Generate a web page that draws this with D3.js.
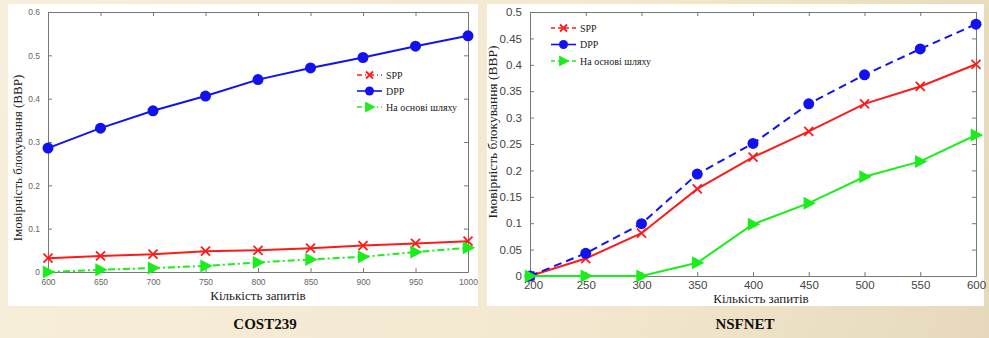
<!DOCTYPE html>
<html>
<head>
<meta charset="utf-8">
<script src="https://cdn.jsdelivr.net/npm/d3@7"></script>
<style>
  body { margin: 0; background: linear-gradient(100deg, #f7eedb 0%, #f3e8cf 60%, #e6d9bb 100%); width: 989px; height: 338px; overflow: hidden; }
  svg { display: block; }
  .tick text { fill: #555; font-family: "Liberation Sans", Arial, sans-serif; }
  .lbl { font-family: "Liberation Serif", "Times New Roman", serif; fill: #222; }
</style>
</head>
<body>
<script>
// COST239
var costX = [600, 650, 700, 750, 800, 850, 900, 950, 1000];
var costSPP = [0.032, 0.037, 0.041, 0.048, 0.050, 0.055, 0.061, 0.066, 0.071];
var costDPP = [0.286, 0.332, 0.372, 0.406, 0.444, 0.471, 0.495, 0.521, 0.545];
var costPath = [0.000, 0.005, 0.009, 0.014, 0.022, 0.029, 0.035, 0.046, 0.056];
var costYTicks = [0, 0.1, 0.2, 0.3, 0.4, 0.5, 0.6];

// NSFNET
var nsfX = [200, 250, 300, 350, 400, 450, 500, 550, 600];
var nsfSPP = [0, 0.033, 0.081, 0.165, 0.225, 0.274, 0.326, 0.359, 0.401];
var nsfDPP = [0, 0.043, 0.099, 0.193, 0.251, 0.326, 0.381, 0.430, 0.477];
var nsfPath = [0, 0, 0, 0.025, 0.098, 0.138, 0.188, 0.217, 0.267];
var nsfYTicks = [0, 0.05, 0.1, 0.15, 0.2, 0.25, 0.3, 0.35, 0.4, 0.45, 0.5];

var seriesNames = ["SPP", "DPP", "На основі шляху"];
var xTitle = "Кількість запитів";
var yTitle = "Імовірність блокування (BBP)";
var captions = ["COST239", "NSFNET"];

var red = "#ff1a1a", blue = "#1212f0", green = "#1aee1a";

var svg = d3.select("body").append("svg")
    .attr("width", 989)
    .attr("height", 338);

// white panels
svg.append("rect").attr("x", 8).attr("y", 4).attr("width", 470).attr("height", 302).attr("fill", "#fff");
svg.append("rect").attr("x", 487).attr("y", 4).attr("width", 497).attr("height", 302).attr("fill", "#fff");

function marker(g, type, cx, cy, color, s) {
  if (type == "x") {
    g.append("path")
      .attr("d", "M" + (cx - s) + "," + (cy - s) + "L" + (cx + s) + "," + (cy + s) + "M" + (cx - s) + "," + (cy + s) + "L" + (cx + s) + "," + (cy - s))
      .attr("stroke", color).attr("stroke-width", 1.8).attr("fill", "none");
  } else if (type == "o") {
    g.append("circle").attr("cx", cx).attr("cy", cy).attr("r", s).attr("fill", color);
  } else {
    g.append("path")
      .attr("d", "M" + (cx - s * 0.8) + "," + (cy - s) + "L" + (cx + s * 1.1) + "," + cy + "L" + (cx - s * 0.8) + "," + (cy + s) + "Z")
      .attr("fill", color);
  }
}

function drawChart(cfg) {
  var g = svg.append("g");
  var x = d3.scaleLinear().domain(d3.extent(cfg.xs)).range([cfg.left, cfg.right]);
  var y = d3.scaleLinear().domain([0, d3.max(cfg.yTicks)]).range([cfg.bottom, cfg.top]);

  var fmt = function(d) { return d == 0 ? "0" : String(+d.toFixed(2)); };

  var xAxis = g.append("g").attr("transform", "translate(0," + cfg.bottom + ")")
    .call(d3.axisBottom(x).tickValues(cfg.xs).tickSizeInner(-4).tickSizeOuter(0).tickPadding(cfg.xPad).tickFormat(d3.format("d")));
  // first x label sits a touch right of the corner, like the original
  xAxis.selectAll(".tick text").filter(function(d, i) { return i == 0; }).attr("dx", cfg.firstDx);
  g.append("g").attr("transform", "translate(0," + cfg.top + ")")
    .call(d3.axisTop(x).tickValues(cfg.xs).tickSizeInner(-4).tickSizeOuter(0).tickFormat(""));
  g.append("g").attr("transform", "translate(" + cfg.left + ",0)")
    .call(d3.axisLeft(y).tickValues(cfg.yTicks).tickSizeInner(-4).tickSizeOuter(0).tickPadding(cfg.yPad).tickFormat(fmt));
  g.append("g").attr("transform", "translate(" + cfg.right + ",0)")
    .call(d3.axisRight(y).tickValues(cfg.yTicks).tickSizeInner(-4).tickSizeOuter(0).tickFormat(""));

  g.selectAll(".domain").attr("stroke", "#777");
  g.selectAll(".tick line").attr("stroke", "#777");
  g.selectAll(".tick text").style("font-size", cfg.tickFont + "px").style("fill", cfg.tickColor);

  cfg.series.forEach(function(s) {
    var line = d3.line()
      .x(function(d, i) { return x(cfg.xs[i]); })
      .y(function(d) { return y(d); });
    g.append("path").datum(s.values)
      .attr("d", line)
      .attr("fill", "none")
      .attr("stroke", s.color)
      .attr("stroke-width", 2)
      .attr("stroke-dasharray", s.dash);
    s.values.forEach(function(v, i) {
      marker(g, s.mark, x(cfg.xs[i]), y(v), s.color, s.size);
    });
  });

  // legend
  cfg.series.forEach(function(s, i) {
    var ly = cfg.legY + i * cfg.legStep;
    g.append("line")
      .attr("x1", cfg.legX).attr("x2", cfg.legX + 25)
      .attr("y1", ly).attr("y2", ly)
      .attr("stroke", s.color).attr("stroke-width", 1.6)
      .attr("stroke-dasharray", s.legDash);
    marker(g, s.mark, cfg.legX + 12.5, ly, s.color, s.legSize);
    g.append("text").attr("class", "lbl")
      .attr("x", cfg.legX + 29).attr("y", ly + 3.5)
      .style("font-size", "10px")
      .text(seriesNames[i]);
  });

  g.append("text").attr("class", "lbl")
    .attr("x", cfg.xTitleX).attr("y", cfg.bottom + cfg.xTitleDy)
    .attr("text-anchor", "middle")
    .style("font-size", "13px")
    .text(xTitle);

  g.append("text").attr("class", "lbl")
    .attr("transform", "translate(" + cfg.yTitleX + "," + cfg.yTitleY + ") rotate(-90)")
    .attr("text-anchor", "middle")
    .style("font-size", cfg.yTitleFont + "px")
    .text(yTitle);

  svg.append("text")
    .attr("x", cfg.capX).attr("y", 329)
    .attr("text-anchor", "middle")
    .style("font-family", "'Liberation Serif', 'Times New Roman', serif")
    .style("font-weight", "bold")
    .style("font-size", "15px")
    .attr("fill", "#111")
    .text(cfg.caption);
}

drawChart({
  xs: costX, yTicks: costYTicks,
  left: 48, right: 468, top: 12, bottom: 272,
  xPad: 7, yPad: 8, firstDx: 0, tickFont: 8.5, tickColor: "#666",
  legX: 357, legY: 75, legStep: 16,
  xTitleX: 258, xTitleDy: 28,
  yTitleX: 22, yTitleY: 158, yTitleFont: 13,
  capX: 265, caption: captions[0],
  series: [
    { values: costSPP, color: red, dash: null, mark: "x", size: 4.5, legDash: "5,3,1,3", legSize: 3.5 },
    { values: costDPP, color: blue, dash: null, mark: "o", size: 5.5, legDash: null, legSize: 4.5 },
    { values: costPath, color: green, dash: "7,3,2,3", mark: "t", size: 6.5, legDash: "5,3,1,3", legSize: 5.5 }
  ]
});

drawChart({
  xs: nsfX, yTicks: nsfYTicks,
  left: 530, right: 976, top: 12, bottom: 276,
  xPad: 5, yPad: 8, firstDx: 3, tickFont: 11.5, tickColor: "#444",
  legX: 551, legY: 28, legStep: 16.5,
  xTitleX: 761, xTitleDy: 27,
  yTitleX: 497, yTitleY: 132, yTitleFont: 13.5,
  capX: 745, caption: captions[1],
  series: [
    { values: nsfSPP, color: red, dash: null, mark: "x", size: 4.5, legDash: "4,3", legSize: 3.5 },
    { values: nsfDPP, color: blue, dash: "8,5", mark: "o", size: 5.5, legDash: null, legSize: 4.5 },
    { values: nsfPath, color: green, dash: null, mark: "t", size: 6.5, legDash: "4,3", legSize: 5.5 }
  ]
});
</script>
</body>
</html>
